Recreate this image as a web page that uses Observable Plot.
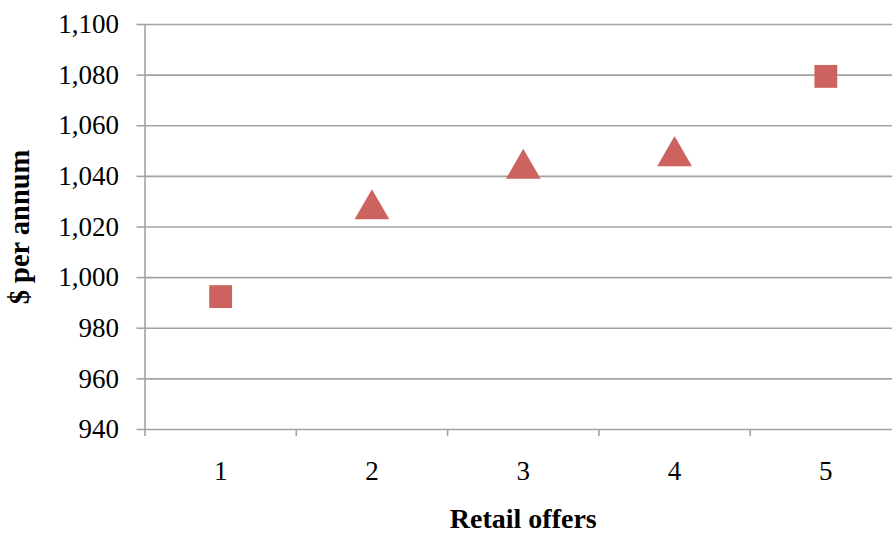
<!DOCTYPE html>
<html>
<head>
<meta charset="utf-8">
<script src="https://cdn.jsdelivr.net/npm/d3@7"></script>
<script src="https://cdn.jsdelivr.net/npm/@observablehq/plot@0.6"></script>
<style>
  html, body { margin: 0; padding: 0; background: #fff; overflow: hidden; }
  #chart svg { display: block; }
</style>
</head>
<body>
<div id="chart"></div>
<script>
// Annual cost of each retail offer
const offers = [1, 2, 3, 4, 5];
const annualCost = [992.5, 1027, 1043, 1048, 1079.5];
const offerShape = ["square", "triangle", "triangle", "triangle", "square"];

// Axis ticks and titles
const yTicks = [940, 960, 980, 1000, 1020, 1040, 1060, 1080, 1100];
const xBoundaries = [0.5, 1.5, 2.5, 3.5, 4.5, 5.5];
const xTitle = "Retail offers";
const yTitle = "$ per annum";

const rows = offers.map((o, i) => ({offer: o, cost: annualCost[i], shape: offerShape[i]}));

// Marker shapes: a square and an upright triangle of equal width and height
const squareSymbol = {
  draw(ctx, size) {
    const h = Math.sqrt(size / Math.PI);
    ctx.rect(-h, -h, 2 * h, 2 * h);
  }
};
const triangleSymbol = {
  draw(ctx, size) {
    const h = Math.sqrt(size / Math.PI);
    ctx.moveTo(0, -h);
    ctx.lineTo(h, h);
    ctx.lineTo(-h, h);
    ctx.closePath();
  }
};

const gridColor = "#a3a3a3";
const markerColor = "#cd635e";
const font = "'Liberation Serif', 'DejaVu Serif', serif";

const chart = Plot.plot({
  width: 892,
  height: 533,
  marginLeft: 144.5,
  marginRight: -9,
  marginTop: 24,
  marginBottom: 104,
  style: {fontFamily: font, fontSize: "27px", color: "#000", background: "#fff"},
  x: {domain: [0.5, 5.5]},
  y: {domain: [940, 1100]},
  symbol: {domain: ["square", "triangle"], range: [squareSymbol, triangleSymbol]},
  marks: [
    Plot.gridY(yTicks, {stroke: gridColor, strokeOpacity: 1, strokeWidth: 1.6}),
    Plot.ruleX([0.5], {stroke: gridColor, strokeWidth: 1.6}),
    Plot.axisY(yTicks, {
      tickSize: 8, tickPadding: 18, tickFormat: d3.format(","),
      stroke: gridColor, strokeWidth: 1.6, fill: "#000", label: null
    }),
    Plot.axisX(xBoundaries, {
      tickSize: 7, text: null, stroke: gridColor, strokeWidth: 1.6, label: null
    }),
    Plot.axisX(offers, {
      tickSize: 0, tickPadding: 31, tickFormat: d3.format("d"), fill: "#000", label: null
    }),
    Plot.dot(rows, {
      x: "offer", y: "cost", symbol: "shape", r: 12.9,
      fill: markerColor, stroke: "none"
    }),
    Plot.text([xTitle], {
      frameAnchor: "bottom", lineAnchor: "middle", dy: 90,
      fontWeight: "bold", fontSize: 28, fill: "#000"
    }),
    Plot.text([yTitle], {
      frameAnchor: "left", textAnchor: "middle", lineAnchor: "middle", dx: -125, rotate: -90,
      fontWeight: "bold", fontSize: 28.5, fill: "#000"
    })
  ]
});

document.getElementById("chart").appendChild(chart);
</script>
</body>
</html>
